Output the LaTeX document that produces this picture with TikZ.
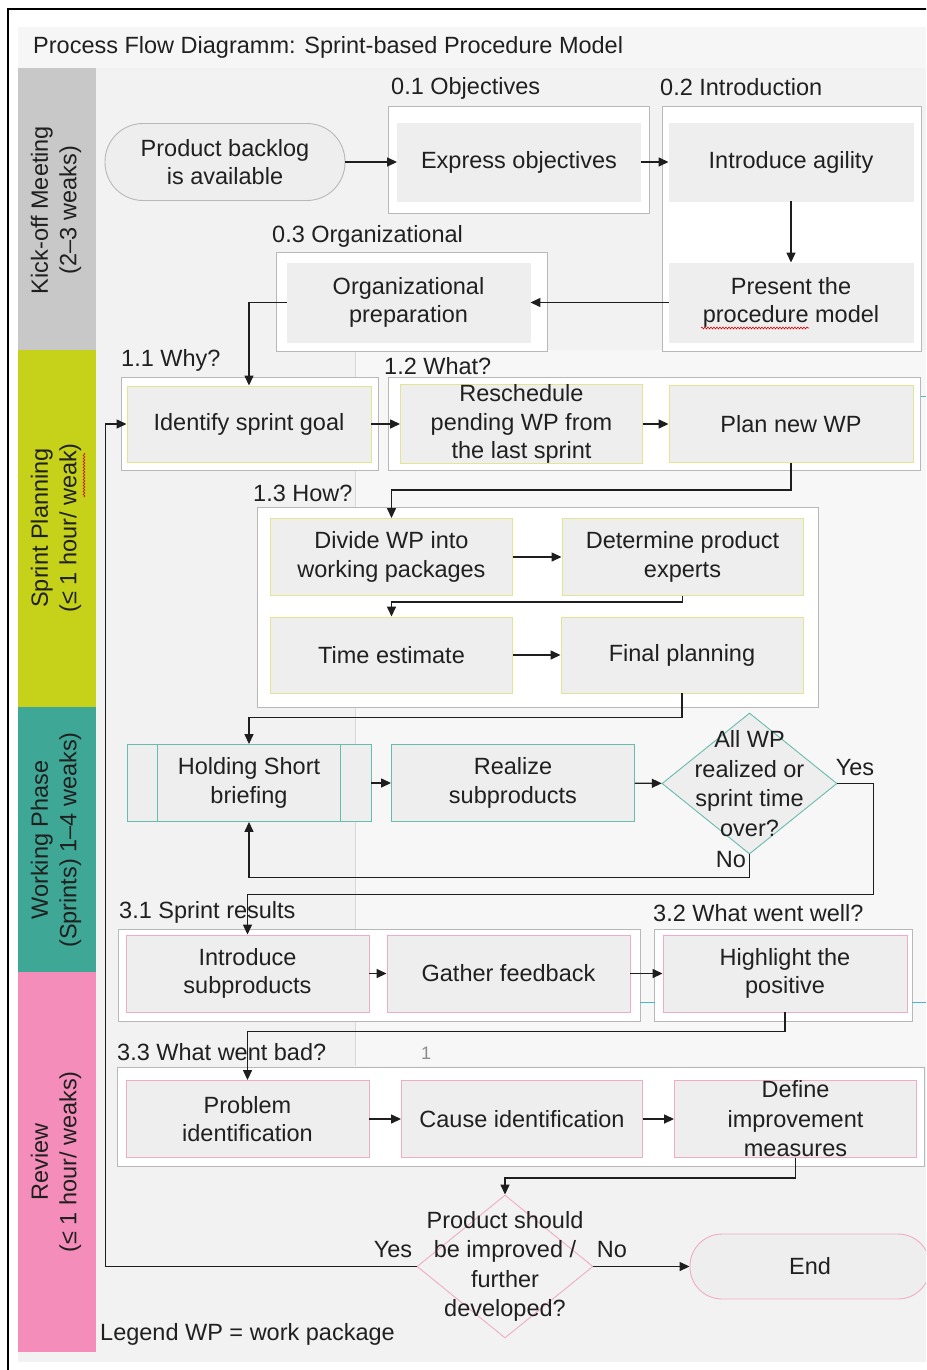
\documentclass[tikz,border=0pt]{standalone}
\usepackage{fontspec}
\setmainfont{Liberation Sans}
\usetikzlibrary{arrows.meta,shapes.geometric,decorations.pathmorphing,calc}

\definecolor{bgc}{HTML}{F2F2F2}
\definecolor{bgright}{HTML}{F7F7F7}
\definecolor{titlec}{HTML}{F6F6F6}
\definecolor{boxc}{HTML}{EEEEEE}
\definecolor{grpline}{HTML}{B8B8B8}
\definecolor{txtc}{HTML}{202020}
\definecolor{linec}{HTML}{1E1E1E}
\definecolor{lanegrey}{HTML}{C8C8C8}
\definecolor{laneyellow}{HTML}{C6D21A}
\definecolor{laneteal}{HTML}{3FA796}
\definecolor{lanepink}{HTML}{F48DB9}
\definecolor{bordyellow}{HTML}{E2E594}
\definecolor{bordteal}{HTML}{67BCAD}
\definecolor{bordpink}{HTML}{EFADC2}
\definecolor{cyanline}{HTML}{4AB6CF}

\newcommand\mainfs{\fontsize{23.5}{28.5}\selectfont}
\newcommand\diafs{\fontsize{23.5}{29.5}\selectfont}

\tikzset{
  proc/.style={rectangle, fill=boxc, draw=#1, line width=0.9pt,
    minimum width=243pt, minimum height=77pt, inner sep=0pt,
    align=center, font=\mainfs, text=txtc},
  proc/.default=boxc,
  grp/.style={rectangle, fill=white, draw=grpline, line width=0.8pt, inner sep=0pt},
  stadium/.style={rectangle, rounded corners=#1, fill=boxc, line width=0.9pt,
    inner sep=0pt, align=center, font=\mainfs, text=txtc},
  decision/.style={diamond, fill=boxc, draw=#1, line width=0.9pt, inner sep=0pt,
    minimum width=175pt, minimum height=142pt},
  grplabel/.style={anchor=west, inner sep=0pt, font=\mainfs, text=txtc},
  lbl/.style={inner sep=0pt, font=\mainfs, text=txtc, align=center},
  lanetext/.style={rotate=90, align=center, inner sep=0pt, font=\mainfs, text=txtc},
  conn/.style={draw=linec, line width=1.4pt, -{Triangle[length=10pt,width=9pt]}},
  spell/.style={draw=red!85!black, line width=0.6pt, decorate,
    decoration={snake, amplitude=0.9pt, segment length=3pt}}
}

\begin{document}
\begin{tikzpicture}[x=1pt,y=-1pt]
\useasboundingbox (0,0) rectangle (926,1370);
\clip (0,0) rectangle (926,1370);

% page, frame and backgrounds
\fill[white] (0,0) rectangle (926,1370);
\draw[black, line width=1.3pt] (8,9) rectangle (960,1400);
\fill[bgc] (18,27) rectangle (926,1362);
\fill[titlec] (18,27) rectangle (926,68);
\fill[bgright] (355,350) rectangle (926,1066);
\draw[black!15, line width=0.8pt] (355,350) -- (355,1066);

% swim lanes
\fill[lanegrey]   (18,68)  rectangle (96,350);
\fill[laneyellow] (18,350) rectangle (96,707);
\fill[laneteal]   (18,707) rectangle (96,972);
\fill[lanepink]   (18,972) rectangle (96,1352);

\node[lanetext] (laneA) at (56,210)  {Kick-off Meeting\\(2–3 weaks)};
\node[lanetext] (laneB) at (56,528)  {Sprint Planning\\(≤ 1 hour/ weak)};
\node[lanetext] (laneC) at (56,840)  {Working Phase\\(Sprints) 1–4 weaks)};
\node[lanetext] (laneD) at (56,1162) {Review\\(≤ 1 hour/ weaks)};
\draw[spell] (84,453) -- (84,497);

% title
\node[grplabel] (title) at (33,47) {Process Flow Diagramm: Sprint-based Procedure Model};

% group frames
\node[grp, minimum width=261pt, minimum height=107pt] (g01) at (518.5,159.5) {};
\node[grp, minimum width=259pt, minimum height=245pt] (g02) at (791.5,228.5) {};
\node[grp, minimum width=271pt, minimum height=99pt]  (g03) at (411.5,301.5) {};
\node[grp, minimum width=257pt, minimum height=93pt]  (g11) at (249.5,423.5) {};
\node[grp, minimum width=532pt, minimum height=93pt]  (g12) at (654.5,423.5) {};
\node[grp, minimum width=561pt, minimum height=200pt] (g13) at (537.5,607) {};
\node[grp, minimum width=522pt, minimum height=92pt]  (g31) at (379,975) {};
\node[grp, minimum width=258pt, minimum height=92pt]  (g32) at (783.5,975) {};
\node[grp, minimum width=807pt, minimum height=99pt]  (g33) at (520.5,1117) {};

\node[grplabel] (l01) at (391,88)  {0.1 Objectives};
\node[grplabel] (l02) at (660,87)  {0.2 Introduction};
\node[grplabel] (l03) at (272,236) {0.3 Organizational};
\node[grplabel] (l11) at (121,360) {1.1 Why?};
\node[grplabel] (l12) at (384,366) {1.2 What?};
\node[grplabel] (l13) at (253,493) {1.3 How?};
\node[grplabel] (l31) at (119,912) {3.1 Sprint results};
\node[grplabel] (l32) at (653,913) {3.2 What went well?};
\node[grplabel] (l33) at (117,1052) {3.3 What went bad?};
\node[inner sep=0pt, font=\fontsize{18}{20}\selectfont, text=black!45] (one) at (426,1053) {1};

% stray connector stubs
\draw[cyanline, line width=0.9pt] (921,396) -- (926,396);
\draw[cyanline, line width=0.9pt] (640,1002) -- (655,1002);
\draw[cyanline, line width=0.9pt] (912,1002) -- (926,1002);

% kick-off
\node[stadium=38pt, draw=grpline, minimum width=240pt, minimum height=77pt] (backlog) at (225,162) {Product backlog\\is available};
\node[proc, minimum height=78pt] (expr) at (519,162) {Express objectives};
\node[proc, minimum width=244pt, minimum height=78pt] (agil) at (791,162) {Introduce agility};
\node[proc, minimum width=244pt, minimum height=79pt] (pres) at (791,302.5) {Present the\\procedure model};
\draw[spell] (701,328) -- (809,328);
\node[proc, minimum height=79pt] (org) at (408.5,302.5) {Organizational\\preparation};

% sprint planning
\node[proc=bordyellow, minimum width=244pt, minimum height=76pt] (idg) at (249,424) {Identify sprint goal};
\node[proc=bordyellow, minimum width=242pt, minimum height=76pt] (resch) at (521.5,424) {Reschedule\\pending WP from\\the last sprint};
\node[proc=bordyellow, minimum width=244pt, minimum height=77pt] (plan) at (791,424) {Plan new WP};
\node[proc=bordyellow, minimum width=242pt] (div) at (391.5,557) {Divide WP into\\working packages};
\node[proc=bordyellow, minimum width=241pt] (det) at (682.5,557) {Determine product\\experts};
\node[proc=bordyellow, minimum width=242pt, minimum height=76pt] (tim) at (391.5,655) {Time estimate};
\node[proc=bordyellow, minimum width=242pt, minimum height=76pt] (fin) at (682,655) {Final planning};

% working phase
\node[proc=bordteal, minimum width=244pt] (hold) at (249,783) {Holding Short\\briefing};
\draw[bordteal, line width=0.9pt] ($(hold.north west)+(31,0)$) -- ($(hold.south west)+(31,0)$);
\draw[bordteal, line width=0.9pt] ($(hold.north east)+(-31,0)$) -- ($(hold.south east)+(-31,0)$);
\node[proc=bordteal] (real) at (513,783) {Realize\\subproducts};
\node[decision=bordteal, minimum height=141pt] (d1) at (749.5,783.5) {};
\node[lbl, font=\diafs] (d1t) at (d1.center) {All WP\\realized or\\sprint time\\over?};

% review
\node[proc=bordpink] (introsp) at (247.5,973.5) {Introduce\\subproducts};
\node[proc=bordpink] (gath) at (508.5,973.5) {Gather feedback};
\node[proc=bordpink, minimum width=244pt] (hl) at (785,973.5) {Highlight the\\positive};
\node[proc=bordpink] (prob) at (247.5,1119) {Problem\\identification};
\node[proc=bordpink, minimum width=241pt] (cause) at (522,1119) {Cause identification};
\node[proc=bordpink, minimum width=242pt, font=\diafs] (def) at (795.5,1119) {Define\\improvement\\measures};
\node[decision=bordpink, fill=bgc, minimum width=176pt, minimum height=143pt] (d2) at (505,1266.5) {};
\node[lbl, font=\diafs] (d2t) at (d2.center) {Product should\\be improved /\\further\\developed?};
\node[stadium=32pt, draw=bordpink, minimum width=240pt, minimum height=65pt] (endn) at (810,1266.5) {End};

% decision labels
\node[lbl] (y1) at (855,768)  {Yes};
\node[lbl] (n1) at (731,860)  {No};
\node[lbl] (y2) at (393,1250) {Yes};
\node[lbl] (n2) at (612,1250) {No};

\node[grplabel] (legend) at (100,1334) {Legend WP = work package};

% connectors
\draw[conn] (backlog) -- (expr);
\draw[conn] (expr) -- (agil);
\draw[conn] (agil) -- (pres);
\draw[conn] (pres) -- (org);
\draw[conn] (org.west) -| (idg.north);
\draw[conn] (idg) -- (resch);
\draw[conn] (resch) -- (plan);
\draw[conn] (plan.south) -- ++(0,27) -| (div.north);
\draw[conn] (div) -- (det);
\draw[conn] (det.south) -- ++(0,6) -| (tim.north);
\draw[conn] (tim) -- (fin);
\draw[conn] (fin.south) -- ++(0,24) -| (hold.north);
\draw[conn] (hold) -- (real);
\draw[conn] (real) -- (d1);
\draw[conn] (d1.east) -- ++(36,0) -- ++(0,111) -| (introsp.north);
\draw[conn] (d1.south) -- ++(0,23) -| (hold.south);
\draw[conn] (introsp) -- (gath);
\draw[conn] (gath) -- (hl);
\draw[conn] (hl.south) -- ++(0,19) -| (prob.north);
\draw[conn] (prob) -- (cause);
\draw[conn] (cause) -- (def);
\draw[conn] (def.south) -- ++(0,20) -| (d2.north);
\draw[conn] (d2.west) -- ++(-311,0) |- (idg.west);
\draw[conn] (d2.east) -- (endn.west);
\end{tikzpicture}
\end{document}
